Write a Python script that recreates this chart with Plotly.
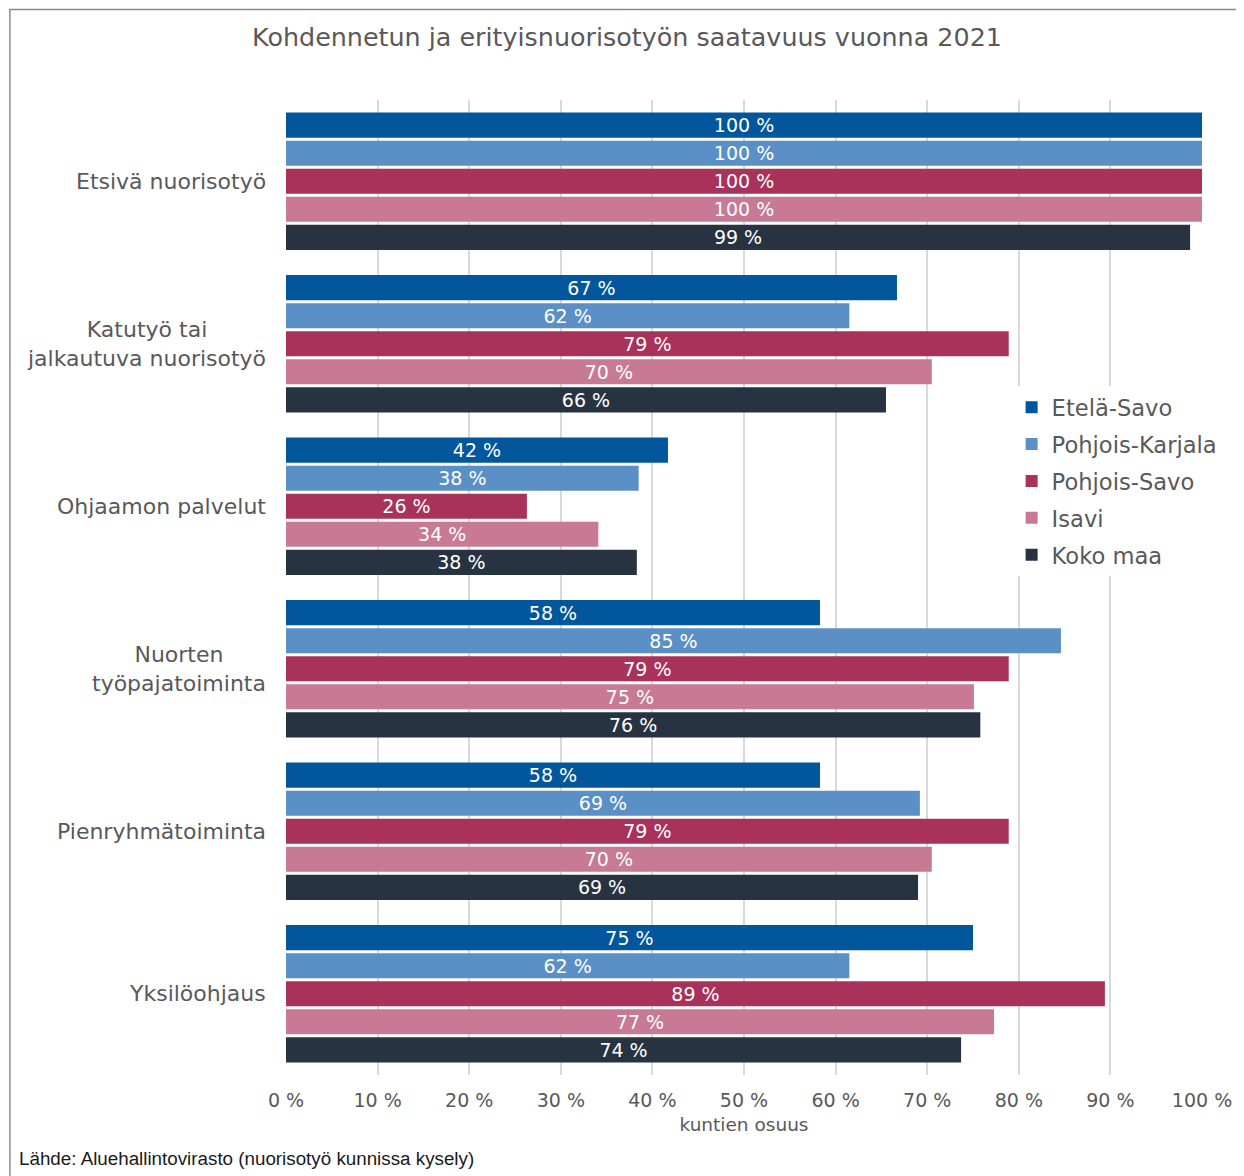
import plotly.graph_objects as go

categories = ["Etsivä nuorisotyö", "Katutyö tai<br>jalkautuva nuorisotyö", "Ohjaamon palvelut",
              "Nuorten<br>työpajatoiminta", "Pienryhmätoiminta", "Yksilöohjaus"]
series_names = ["Etelä-Savo", "Pohjois-Karjala", "Pohjois-Savo", "Isavi", "Koko maa"]
etela_savo = [100, 66.7, 41.7, 58.3, 58.3, 75.0]
pohjois_karjala = [100, 61.5, 38.5, 84.6, 69.2, 61.5]
pohjois_savo = [100, 78.9, 26.3, 78.9, 78.9, 89.4]
isavi = [100, 70.5, 34.1, 75.1, 70.5, 77.3]
koko_maa = [98.7, 65.5, 38.3, 75.8, 69.0, 73.7]
tick_values = [0, 10, 20, 30, 40, 50, 60, 70, 80, 90, 100]
tick_labels = [f"{v} %" for v in tick_values]
colors = ["#02569B", "#5A90C5", "#A8325A", "#C87A94", "#283341"]

all_series = [etela_savo, pohjois_karjala, pohjois_savo, isavi, koko_maa]
FONT = "DejaVu Sans"
GREY = "#595959"

# page body has an 8px margin; coordinates below are page coords minus 8
OFF = 8
W, H = 1244 - OFF, 1176 - OFF
ML, MT = 286 - OFF, 100 - OFF
PR, PB = 1205 - OFF, 1075 - OFF
MR, MB = W - PR, H - PB
PW, PH = PR - ML, PB - MT


def px_x(x):
    return (x - OFF - ML) / PW


def px_y(y):
    return 1 - (y - OFF - MT) / PH


fig = go.Figure()
for name, vals, col in zip(series_names, all_series, colors):
    fig.add_trace(go.Bar(
        y=categories, x=vals, name=name, orientation="h", legendgroup=name,
        marker=dict(color=col, line=dict(width=0)),
        text=[f"{round(v):.0f} %" for v in vals],
        textposition="inside", insidetextanchor="middle",
        textfont=dict(family=FONT, size=19, color="white"),
        constraintext="none",
    ))

annotations = []
for c in categories:
    annotations.append(dict(
        x=0, xref="paper", y=c, yref="y", text=c, showarrow=False,
        xanchor="right", align="center", xshift=-18,
        font=dict(family=FONT, size=22, color=GREY),
    ))
annotations.append(dict(
    x=px_x(16), xref="paper", y=px_y(1158), yref="paper",
    text="Lähde: Aluehallintovirasto (nuorisotyö kunnissa kysely)", showarrow=False,
    xanchor="left", yanchor="middle", font=dict(family="Liberation Sans", size=18.8, color="#1a1a1a"),
))

fig.update_layout(
    width=W, height=H,
    margin=dict(l=ML, r=MR, t=MT, b=MB),
    paper_bgcolor="white", plot_bgcolor="white",
    barmode="group", bargap=0.138, bargroupgap=0.1,
    title=dict(text="Kohdennetun ja erityisnuorisotyön saatavuus vuonna 2021",
               x=(627 - OFF) / W, xanchor="center", y=1 - (37 - OFF) / H, yanchor="middle",
               font=dict(family=FONT, size=25.4, color=GREY)),
    font=dict(family=FONT, color=GREY),
    showlegend=True,
    legend=dict(x=px_x(1014), xanchor="left", y=px_y(386), yanchor="top",
                bgcolor="white", font=dict(family=FONT, size=22.6, color=GREY),
                traceorder="grouped", tracegroupgap=4.5, itemwidth=30),
    xaxis=dict(range=[0, 100], tickvals=tick_values, ticktext=tick_labels,
               showgrid=True, gridcolor="#D9D9D9", gridwidth=2, zeroline=False,
               showline=False, ticks="outside", ticklen=8, tickcolor="white",
               tickfont=dict(family=FONT, size=19, color=GREY),
               title=dict(text="kuntien osuus", standoff=8, font=dict(family=FONT, size=18.5, color=GREY))),
    yaxis=dict(autorange="reversed", showticklabels=False, showgrid=False, zeroline=False,
               showline=False, ticks=""),
    annotations=annotations,
    shapes=[dict(type="rect", xref="paper", yref="paper",
                 x0=px_x(9), x1=px_x(1270),
                 y0=px_y(1200), y1=px_y(9.5),
                 line=dict(color="#8a8a8a", width=1.5), fillcolor="rgba(0,0,0,0)", layer="below")],
)

fig.write_html("out.html")
